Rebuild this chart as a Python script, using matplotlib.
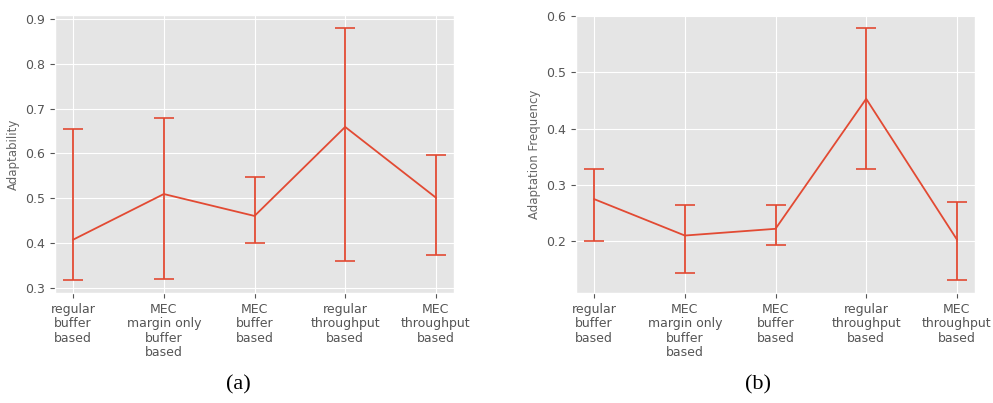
import matplotlib
matplotlib.use("Agg")
import matplotlib.pyplot as plt
import numpy as np

plt.style.use("ggplot")

categories = [
    "regular\nbuffer\nbased",
    "MEC\nmargin only\nbuffer\nbased",
    "MEC\nbuffer\nbased",
    "regular\nthroughput\nbased",
    "MEC\nthroughput\nbased",
]

# (a) adaptability: mean, lower end, upper end of error bar
adapt_mean = [0.407, 0.509, 0.460, 0.659, 0.501]
adapt_low = [0.316, 0.320, 0.400, 0.360, 0.372]
adapt_high = [0.655, 0.679, 0.547, 0.881, 0.596]

# (b) adaptation frequency
freq_mean = [0.274, 0.209, 0.221, 0.453, 0.202]
freq_low = [0.200, 0.142, 0.192, 0.327, 0.129]
freq_high = [0.327, 0.264, 0.264, 0.580, 0.269]

panels = [
    ("Adaptability", adapt_mean, adapt_low, adapt_high, "(a)"),
    ("Adaptation Frequency", freq_mean, freq_low, freq_high, "(b)"),
]

W, H = 993, 403
fig = plt.figure(figsize=(W / 100, H / 100), dpi=100)
fig.patch.set_facecolor("white")

lefts = [55, 576]
caption_x = [238, 758]
for left, cx, (ylabel, mean, low, high, cap) in zip(lefts, caption_x, panels):
    ax = fig.add_axes([left / W, (H - 293) / H, 399 / W, 278 / H])
    x = np.arange(len(categories))
    mean = np.array(mean)
    yerr = [mean - np.array(low), np.array(high) - mean]
    ax.errorbar(x, mean, yerr=yerr, color="#E24A33", linewidth=1.3,
                elinewidth=1.3, capsize=7.5, capthick=1.2)
    ax.set_xticks(x)
    ax.set_xticklabels(categories, fontsize=9, color="#555555",
                       linespacing=1.15)
    ax.tick_params(axis="y", labelsize=9, colors="#555555")
    ax.set_ylabel(ylabel, fontsize=8.5, color="#666666")
    fig.text(cx / W, 1 - 385 / H, cap, ha="center", va="center",
             fontsize=16, family="Liberation Serif")

fig.savefig("out.png", dpi=100)
